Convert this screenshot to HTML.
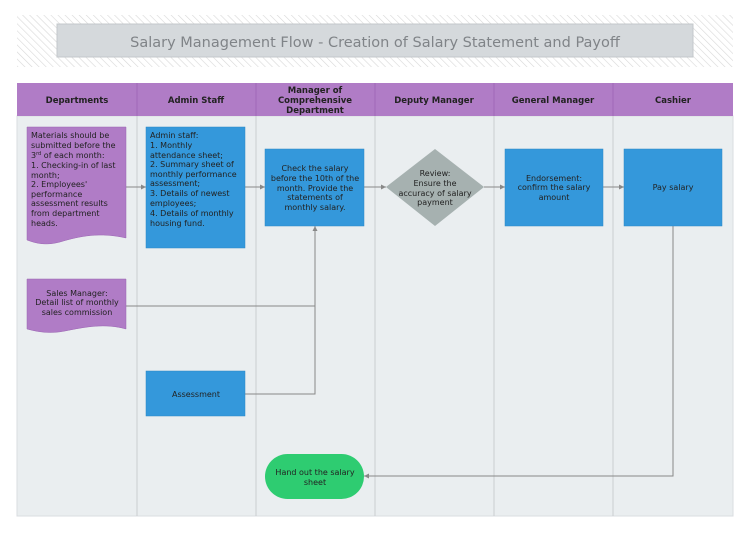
<!DOCTYPE html>
<html><head><meta charset="utf-8"><style>
html,body{margin:0;padding:0;background:#fff}
svg{display:block;font-family:"DejaVu Sans","Liberation Sans",sans-serif}
</style></head><body>
<svg width="750" height="533" viewBox="0 0 750 533" xmlns="http://www.w3.org/2000/svg">
<defs>
<pattern id="h" width="5" height="5" patternUnits="userSpaceOnUse" patternTransform="rotate(-45)">
<rect width="5" height="5" fill="#fff"/><line x1="0" y1="0" x2="0" y2="5" stroke="#d8d8d8" stroke-width="1.2"/>
</pattern>
<marker id="a" markerWidth="6" markerHeight="6" refX="5" refY="3" orient="auto" markerUnits="userSpaceOnUse"><path d="M0,0.5 L5,3 L0,5.5z" fill="#888"/></marker>
</defs>
<rect x="17" y="15" width="716" height="52" fill="url(#h)"/>
<rect x="57" y="24" width="636" height="33" fill="#d5d9dc" stroke="#c4c8cb"/>
<text x="375" y="47" text-anchor="middle" font-size="14.5" fill="#808488">Salary Management Flow - Creation of Salary Statement and Payoff</text>
<rect x="17" y="116" width="716" height="400" fill="#eaeef0" stroke="#dadde0"/>
<rect x="17" y="83" width="716" height="33" fill="#b07cc6"/>
<g stroke="#a069b8"><line x1="137" y1="83" x2="137" y2="116"/><line x1="256" y1="83" x2="256" y2="116"/><line x1="375" y1="83" x2="375" y2="116"/><line x1="494" y1="83" x2="494" y2="116"/><line x1="613" y1="83" x2="613" y2="116"/></g>
<g stroke="#c9cdd0"><line x1="137" y1="116" x2="137" y2="516"/><line x1="256" y1="116" x2="256" y2="516"/><line x1="375" y1="116" x2="375" y2="516"/><line x1="494" y1="116" x2="494" y2="516"/><line x1="613" y1="116" x2="613" y2="516"/></g>
<g font-size="8.5" font-weight="bold" fill="#222" text-anchor="middle">
<text x="77" y="103">Departments</text><text x="196" y="103">Admin Staff</text>
<text x="315" y="93">Manager of</text><text x="315" y="103">Comprehensive</text><text x="315" y="113">Department</text>
<text x="434" y="103">Deputy Manager</text><text x="553" y="103">General Manager</text><text x="673" y="103">Cashier</text>
</g>
<g stroke="#888" fill="none" stroke-width="1">
<line x1="126" y1="187" x2="146" y2="187" marker-end="url(#a)"/>
<line x1="245" y1="187" x2="265" y2="187" marker-end="url(#a)"/>
<line x1="364" y1="187" x2="386" y2="187" marker-end="url(#a)"/>
<line x1="484" y1="187" x2="505" y2="187" marker-end="url(#a)"/>
<line x1="603" y1="187" x2="624" y2="187" marker-end="url(#a)"/>
<polyline points="126,306 315,306"/>
<polyline points="245,394 315,394 315,226" marker-end="url(#a)"/>
<polyline points="673,226 673,476 364,476" marker-end="url(#a)"/>
</g>
<path d="M27,127 H126 V238 C100,232 80,236 60,242 C45,246 35,243 27,240 Z" fill="#b07cc6" stroke="#9a64b2" stroke-width="0.5"/>
<path d="M27,279 H126 V329 C105,323 85,327 65,331 C50,334 38,332 27,329 Z" fill="#b07cc6" stroke="#9a64b2" stroke-width="0.5"/>
<rect x="146" y="127" width="99" height="121" fill="#3498db" stroke="#2d86c4" stroke-width="0.5"/>
<rect x="265" y="149" width="99" height="77" fill="#3498db" stroke="#2d86c4" stroke-width="0.5"/>
<polygon points="435,149 484,187 435,226 386,187" fill="#a6b1b0"/>
<rect x="505" y="149" width="98" height="77" fill="#3498db" stroke="#2d86c4" stroke-width="0.5"/>
<rect x="624" y="149" width="98" height="77" fill="#3498db" stroke="#2d86c4" stroke-width="0.5"/>
<rect x="146" y="371" width="99" height="45" fill="#3498db" stroke="#2d86c4" stroke-width="0.5"/>
<rect x="265" y="454" width="99" height="45" rx="22.5" fill="#2ecc71"/>
<g font-size="8" fill="#222">
<text x="31" y="138">Materials should be</text>
<text x="31" y="148">submitted before the</text>
<text x="31" y="158">3<tspan font-size="5" dy="-3">rd</tspan><tspan dy="3"> of each month:</tspan></text>
<text x="31" y="168">1. Checking-in of last</text>
<text x="31" y="178">month;</text>
<text x="31" y="187">2. Employees'</text>
<text x="31" y="197">performance</text>
<text x="31" y="206">assessment results</text>
<text x="31" y="216">from department</text>
<text x="31" y="226">heads.</text>
<text x="150" y="138">Admin staff:</text>
<text x="150" y="148">1. Monthly</text>
<text x="150" y="158">attendance sheet;</text>
<text x="150" y="167">2. Summary sheet of</text>
<text x="150" y="177">monthly performance</text>
<text x="150" y="186">assessment;</text>
<text x="150" y="196">3. Details of newest</text>
<text x="150" y="206">employees;</text>
<text x="150" y="216">4. Details of monthly</text>
<text x="150" y="226">housing fund.</text>
</g>
<g font-size="8" fill="#222" text-anchor="middle">
<text x="315" y="171">Check the salary</text>
<text x="315" y="181">before the 10th of the</text>
<text x="315" y="191">month. Provide the</text>
<text x="315" y="200">statements of</text>
<text x="315" y="210">monthly salary.</text>
<text x="435" y="176">Review:</text>
<text x="435" y="186">Ensure the</text>
<text x="435" y="196">accuracy of salary</text>
<text x="435" y="205">payment</text>
<text x="554" y="181">Endorsement:</text>
<text x="554" y="190">confirm the salary</text>
<text x="554" y="200">amount</text>
<text x="673" y="190">Pay salary</text>
<text x="77" y="296">Sales Manager:</text>
<text x="77" y="305">Detail list of monthly</text>
<text x="77" y="315">sales commission</text>
<text x="196" y="397">Assessment</text>
<text x="315" y="475">Hand out the salary</text>
<text x="315" y="485">sheet</text>
</g>
</svg>
</body></html>
